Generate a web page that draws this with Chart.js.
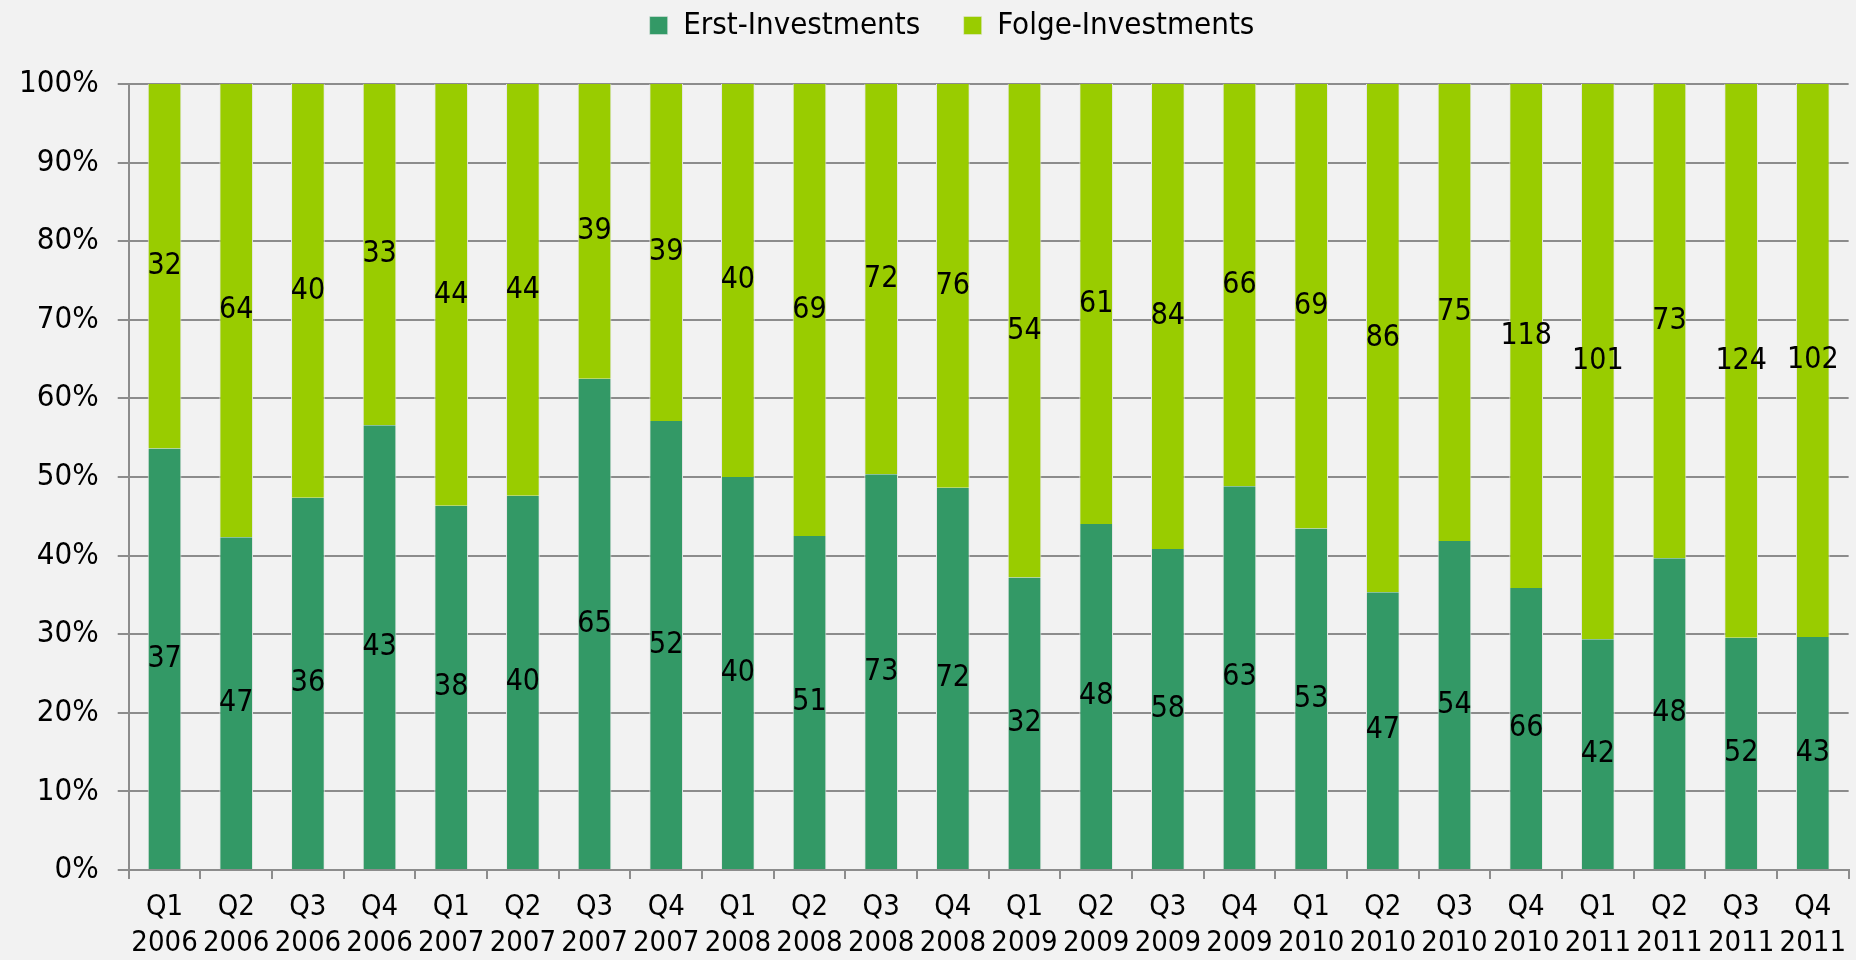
<!DOCTYPE html>
<html>
<head>
<meta charset="utf-8">
<script src="https://cdn.jsdelivr.net/npm/chart.js@4"></script>
<style>
    html, body { margin: 0; padding: 0; background: #f2f2f2; }
    #wrap { width: 1856px; height: 960px; }
</style>
</head>
<body>
<div id="wrap"><canvas id="investChart"></canvas></div>
<script>
const quarters = ['Q1','Q2','Q3','Q4','Q1','Q2','Q3','Q4','Q1','Q2','Q3','Q4','Q1','Q2','Q3','Q4','Q1','Q2','Q3','Q4','Q1','Q2','Q3','Q4'];
const years = ['2006','2006','2006','2006','2007','2007','2007','2007','2008','2008','2008','2008','2009','2009','2009','2009','2010','2010','2010','2010','2011','2011','2011','2011'];
const erstInvestments = [37, 47, 36, 43, 38, 40, 65, 52, 40, 51, 73, 72, 32, 48, 58, 63, 53, 47, 54, 66, 42, 48, 52, 43];
const folgeInvestments = [32, 64, 40, 33, 44, 44, 39, 39, 40, 69, 72, 76, 54, 61, 84, 66, 69, 86, 75, 118, 101, 73, 124, 102];
const yTicks = [0, 10, 20, 30, 40, 50, 60, 70, 80, 90, 100];

const FONT = '"DejaVu Sans Condensed", "DejaVu Sans", sans-serif';

// share of each quarter's total, the bars are 100% stacked
const totals = erstInvestments.map((v, i) => v + folgeInvestments[i]);
const erstPct = erstInvestments.map((v, i) => v / totals[i] * 100);
const folgePct = folgeInvestments.map((v, i) => v / totals[i] * 100);

// raw counts written in the middle of each segment
const countLabels = {
    id: 'countLabels',
    afterDatasetsDraw(chart) {
        const ctx = chart.ctx;
        ctx.save();
        ctx.font = '30px ' + FONT;
        ctx.fillStyle = '#000';
        ctx.textAlign = 'center';
        ctx.textBaseline = 'middle';
        chart.data.datasets.forEach((ds, di) => {
            const meta = chart.getDatasetMeta(di);
            meta.data.forEach((bar, i) => {
                const p = bar.getCenterPoint();
                ctx.fillText(String(ds.counts[i]), p.x, p.y);
            });
        });
        ctx.restore();
    }
};

// more room between legend and plot, legend a bit right of centre
const legendGap = {
    id: 'legendGap',
    beforeInit(chart) {
        const fit = chart.legend.fit;
        chart.legend.fit = function () {
            fit.bind(chart.legend)();
            this.height += 33;
        };
    },
    afterLayout(chart) {
        chart.legend.left += 40;
    }
};

new Chart(document.getElementById('investChart'), {
    type: 'bar',
    data: {
        labels: quarters.map((q, i) => [q, years[i]]),
        datasets: [
            {
                label: 'Erst-Investments',
                data: erstPct,
                counts: erstInvestments,
                backgroundColor: '#339966',
                borderColor: '#e6e6e6',
                borderWidth: { left: 1, right: 1 },
                barPercentage: 0.47,
                categoryPercentage: 1
            },
            {
                label: 'Folge-Investments',
                data: folgePct,
                counts: folgeInvestments,
                backgroundColor: '#99cc00',
                borderColor: '#e6e6e6',
                borderWidth: { left: 1, right: 1 },
                barPercentage: 0.47,
                categoryPercentage: 1
            }
        ]
    },
    options: {
        responsive: true,
        maintainAspectRatio: false,
        animation: false,
        layout: { padding: { top: 2, right: -8, left: 0, bottom: 0 } },
        plugins: {
            legend: {
                position: 'top',
                labels: {
                    font: { family: FONT, size: 31 },
                    color: '#000',
                    boxWidth: 18,
                    boxHeight: 18,
                    padding: 8,
                    generateLabels(chart) {
                        const items = Chart.defaults.plugins.legend.labels.generateLabels(chart);
                        // wider gap between the two entries
                        items.forEach((it, i) => { if (i < items.length - 1) it.text += '    '; });
                        return items;
                    }
                }
            },
            tooltip: { enabled: false }
        },
        scales: {
            x: {
                stacked: true,
                afterFit(axis) { axis.height -= 11; },
                grid: {
                    drawOnChartArea: false,
                    drawTicks: true,
                    tickLength: 9,
                    color: '#8c8c8c',
                    lineWidth: 2,
                    offset: true
                },
                border: { color: '#8c8c8c', width: 2 },
                ticks: {
                    font: { family: FONT, size: 29, lineHeight: 1.24 },
                    color: '#000',
                    maxRotation: 0,
                    autoSkip: false,
                    padding: 10
                }
            },
            y: {
                stacked: true,
                min: 0,
                max: 100,
                afterBuildTicks(axis) {
                    axis.ticks = yTicks.map(v => ({ value: v }));
                },
                grid: {
                    color: '#8c8c8c',
                    lineWidth: 2,
                    tickLength: 11
                },
                border: { color: '#8c8c8c', width: 2 },
                ticks: {
                    font: { family: FONT, size: 31 },
                    color: '#000',
                    padding: 19,
                    callback: v => v + '%'
                }
            }
        }
    },
    plugins: [countLabels, legendGap]
});
</script>
</body>
</html>
